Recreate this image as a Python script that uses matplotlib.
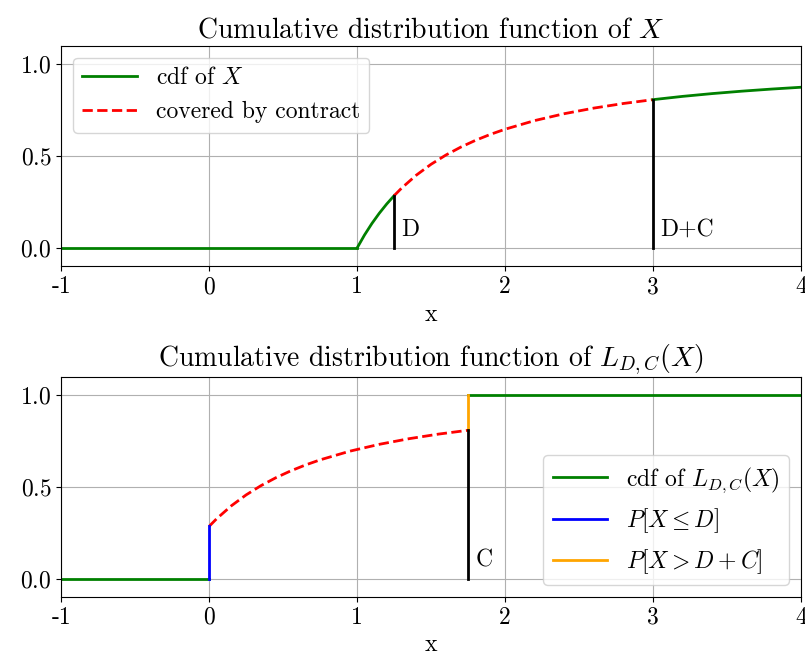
import matplotlib
matplotlib.use('Agg')
import numpy as np
import matplotlib.pyplot as plt

plt.rcParams['font.family'] = 'serif'
plt.rcParams['font.serif'] = ['cmr10']
plt.rcParams['mathtext.fontset'] = 'cm'
plt.rcParams['axes.unicode_minus'] = False
plt.rcParams['axes.formatter.use_mathtext'] = True

# deductible and cover of the contract
D = 1.25
C = 1.75

# cdf of X sampled on its support
cdf_x = [1.0, 1.05, 1.1, 1.15, 1.2, 1.25, 1.3, 1.4, 1.5, 1.6, 1.7, 1.8, 1.9, 2.0,
         2.2, 2.4, 2.6, 2.8, 3.0, 3.2, 3.4, 3.6, 3.8, 4.0]
cdf_y = [0.0, 0.0705, 0.1332, 0.1891, 0.2393, 0.2845, 0.3253, 0.3963, 0.4557,
         0.5059, 0.5488, 0.5859, 0.6182, 0.6464, 0.6935, 0.7310, 0.7615, 0.7866,
         0.8075, 0.8253, 0.8405, 0.8536, 0.8650, 0.875]

xticks = [-1, 0, 1, 2, 3, 4]
xticklabels = ['-1', '0', '1', '2', '3', '4']
yticks = [0.0, 0.5, 1.0]

cx = np.array(cdf_x)
cy = np.array(cdf_y)
lw = 2
fs = 17

def F(v):
    return np.interp(v, cx, cy)

fig, (ax1, ax2) = plt.subplots(2, 1, figsize=(8.05, 6.56), dpi=100)

# top: cdf of X
low = cx <= D
mid = (cx >= D) & (cx <= D + C)
high = cx >= D + C
ax1.plot([-1, 1], [0, 0], color='green', lw=lw, label='cdf of $X$')
ax1.plot(cx[low], cy[low], color='green', lw=lw)
ax1.plot(cx[mid], cy[mid], color='red', ls='--', lw=lw, label='covered by contract')
ax1.plot(cx[high], cy[high], color='green', lw=lw)
ax1.plot([D, D], [0, F(D)], color='black', lw=lw)
ax1.plot([D + C, D + C], [0, F(D + C)], color='black', lw=lw)
ax1.text(D + 0.05, 0.04, 'D', fontsize=fs, va='bottom')
ax1.text(D + C + 0.05, 0.04, 'D+C', fontsize=fs, va='bottom')
ax1.set_title('Cumulative distribution function of $X$', fontsize=20)
ax1.legend(loc='upper left', fontsize=fs, handlelength=2.3)

# bottom: cdf of the covered loss L_{D,C}(X)
ax2.plot([-1, 0], [0, 0], color='green', lw=lw, label='cdf of $L_{D,C}(X)$')
ax2.plot(cx[mid] - D, cy[mid], color='red', ls='--', lw=lw)
ax2.plot([C, 4], [1, 1], color='green', lw=lw)
ax2.plot([0, 0], [0, F(D)], color='blue', lw=lw, label='$P[X \\leq D]$')
ax2.plot([C, C], [F(D + C), 1], color='orange', lw=lw, label='$P[X > D + C]$')
ax2.plot([C, C], [0, F(D + C)], color='black', lw=lw)
ax2.text(C + 0.05, 0.04, 'C', fontsize=fs, va='bottom')
ax2.set_title('Cumulative distribution function of $L_{D,C}(X)$', fontsize=20)
ax2.legend(loc='lower right', fontsize=fs, handlelength=2.3)

for ax in (ax1, ax2):
    ax.set_xlim(-1, 4)
    ax.set_ylim(-0.1, 1.1)
    ax.set_xticks(xticks)
    ax.set_xticklabels(xticklabels)
    ax.set_yticks(yticks)
    ax.tick_params(labelsize=fs)
    ax.set_xlabel('x', fontsize=fs)
    ax.grid(True, color='#b0b0b0')

fig.subplots_adjust(left=0.076, right=0.995, top=0.93, bottom=0.09, hspace=0.5)
plt.savefig('out.png')
